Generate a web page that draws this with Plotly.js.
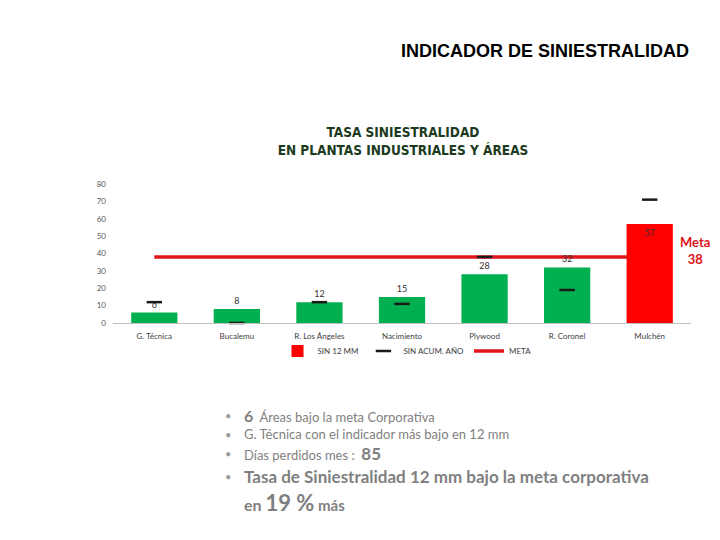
<!DOCTYPE html>
<html>
<head>
<meta charset="utf-8">
<script src="https://cdn.plot.ly/plotly-3.0.1.min.js"></script>
<style>
  html, body { margin: 0; padding: 0; background: #ffffff; }
  #chart { width: 720px; height: 540px; }
</style>
</head>
<body>
<div id="chart"></div>
<script>
// Accident-rate indicator per plant / area
const categories = ['G. Técnica', 'Bucalemu', 'R. Los Ángeles', 'Nacimiento', 'Plywood', 'R. Coronel', 'Mulchén'];
const sin12mm = [6, 8, 12, 15, 28, 32, 57];        // rolling 12-month rate
const sinAcumAnio = [12, 0, 12, 11, 38, 19, 71];   // year-to-date rate
const meta = 38;                                   // corporate target
const yTicks = [0, 10, 20, 30, 40, 50, 60, 70, 80];

const GREEN = '#00b050';
const RED = '#ff0000';
const META_RED = '#e0141b';
const GRAY_TEXT = '#7f7f7f';

// split bars by whether they are above the target
const belowIdx = categories.map((c, i) => i).filter(i => sin12mm[i] <= meta);
const aboveIdx = categories.map((c, i) => i).filter(i => sin12mm[i] > meta);
const pick = (arr, idx) => idx.map(i => arr[i]);

const traces = [
  {
    type: 'scatter', mode: 'lines', name: 'META',
    x: categories, y: categories.map(() => meta),
    xaxis: 'x', yaxis: 'y',
    line: { color: META_RED, width: 3.5 },
    legendrank: 3, hoverinfo: 'skip'
  },
  {
    type: 'bar', name: 'SIN 12 MM',
    x: pick(categories, aboveIdx), y: pick(sin12mm, aboveIdx),
    xaxis: 'x', yaxis: 'y2',
    marker: { color: RED },
    text: pick(sin12mm, aboveIdx).map(String),
    textposition: 'inside', insidetextanchor: 'end',
    textfont: { family: 'Lato, sans-serif', size: 9, color: '#333333' },
    legendrank: 1
  },
  {
    type: 'bar', name: 'SIN 12 MM', showlegend: false,
    x: pick(categories, belowIdx), y: pick(sin12mm, belowIdx),
    xaxis: 'x', yaxis: 'y2',
    marker: { color: GREEN },
    text: pick(sin12mm, belowIdx).map(String),
    textposition: 'outside',
    textfont: { family: 'Lato, sans-serif', size: 9, color: '#333333' },
    cliponaxis: false
  },
  {
    type: 'scatter', mode: 'markers', name: 'SIN ACUM. AÑO',
    x: categories, y: sinAcumAnio,
    xaxis: 'x', yaxis: 'y2',
    marker: { symbol: 'line-ew', size: 11, line: { color: '#1a1a1a', width: 2.5 } },
    cliponaxis: false,
    legendrank: 2
  }
];

// paper-coordinate helpers (plot area: 113..691 x 184..323 px)
const L = 113, R = 691, T = 184, B = 323;
const px = v => (v - L) / (R - L);
const py = v => (B - v) / (B - T);

const bulletFont = { family: 'Lato, "Open Sans", sans-serif', size: 13, color: GRAY_TEXT };
const bulletLines = [
  { y: 415, text: '<span style="font-size:16px"><b>6</b></span>  Áreas bajo la meta Corporativa', dot: true },
  { y: 434, text: 'G. Técnica con el indicador más bajo en 12 mm', dot: true },
  { y: 453, text: 'Días perdidos mes :  <span style="font-size:17px"><b>85</b></span>', dot: true },
  { y: 476, text: '<span style="font-size:17px"><b>Tasa de Siniestralidad 12 mm bajo la meta corporativa</b></span>', dot: true },
  { y: 502, text: '<b><span style="font-size:16px">en </span><span style="font-size:22px">19 %</span><span style="font-size:15px"> más</span></b>', dot: false }
];

const annotations = [
  {
    xref: 'paper', yref: 'paper', x: px(691), y: py(51), xanchor: 'right', yanchor: 'middle',
    text: '<b>INDICADOR DE SINIESTRALIDAD</b>', showarrow: false,
    font: { family: 'Liberation Sans, Arial, sans-serif', size: 18, color: '#000000' }
  },
  {
    xref: 'paper', yref: 'paper', x: px(695), y: py(250), xanchor: 'center', yanchor: 'middle',
    text: '<b>Meta<br>' + meta + '</b>', showarrow: false, align: 'center',
    font: { family: 'Lato, sans-serif', size: 13, color: META_RED }
  }
];
bulletLines.forEach(l => {
  if (l.dot) {
    annotations.push({
      xref: 'paper', yref: 'paper', x: px(228), y: py(l.y), xanchor: 'center', yanchor: 'middle',
      text: '•', showarrow: false, font: { family: 'Lato, sans-serif', size: 11, color: '#9a9a9a' }
    });
  }
  annotations.push({
    xref: 'paper', yref: 'paper', x: px(242), y: py(l.y), xanchor: 'left', yanchor: 'middle',
    text: l.text, showarrow: false, align: 'left', font: bulletFont
  });
});

const layout = {
  width: 720, height: 540,
  margin: { l: L, r: 720 - R, t: T, b: 540 - B },
  paper_bgcolor: '#ffffff', plot_bgcolor: '#ffffff',
  title: {
    text: '<b>TASA SINIESTRALIDAD<br>EN PLANTAS INDUSTRIALES Y ÁREAS</b>',
    x: 403 / 720, xanchor: 'center', xref: 'container',
    y: 1 - 137 / 540, yanchor: 'middle', yref: 'container',
    font: { family: '"Liberation Sans Narrow", "DejaVu Sans Condensed", sans-serif', size: 13.5, color: '#1c3a1c' }
  },
  barmode: 'overlay',
  bargap: 0.44,
  showlegend: true,
  legend: {
    orientation: 'h', x: px(407), xanchor: 'center', y: py(351), yanchor: 'middle',
    font: { family: 'Lato, sans-serif', size: 8, color: '#404040' },
    itemwidth: 30, bgcolor: 'rgba(0,0,0,0)'
  },
  xaxis: {
    type: 'category', categoryarray: categories,
    showline: true, linecolor: '#bfbfbf', linewidth: 1,
    showgrid: false, zeroline: false, ticks: '',
    ticklabelstandoff: 5,
    tickfont: { family: 'Lato, sans-serif', size: 8, color: '#404040' },
    fixedrange: true
  },
  yaxis: {
    range: [0, 80], tickvals: yTicks, ticktext: yTicks.map(String),
    showgrid: false, zeroline: false, showline: false, ticks: '',
    ticklabelstandoff: 6,
    tickfont: { family: 'Lato, sans-serif', size: 8, color: '#595959' },
    fixedrange: true
  },
  yaxis2: {
    overlaying: 'y', range: [0, 80], visible: false, fixedrange: true
  },
  annotations: annotations
};

Plotly.newPlot('chart', traces, layout, { displayModeBar: false, staticPlot: true });
</script>
</body>
</html>
